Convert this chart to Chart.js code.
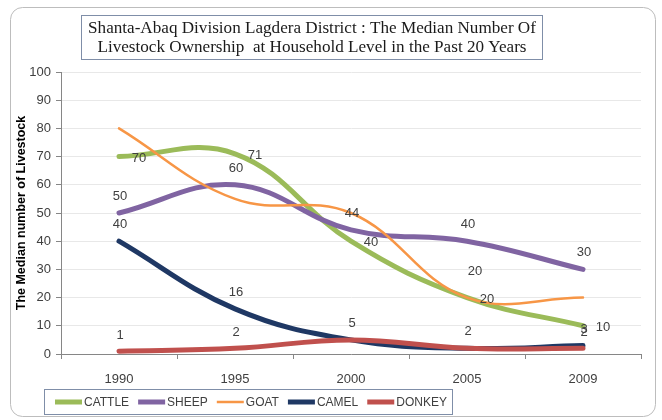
<!DOCTYPE html>
<html>
<head>
<meta charset="utf-8">
<script src="https://cdn.jsdelivr.net/npm/chart.js@4/dist/chart.umd.min.js"></script>
<style>
  html, body { margin: 0; padding: 0; background: #ffffff; }
  #wrap { width: 662px; height: 420px; position: relative; }
</style>
</head>
<body>
<div id="wrap"><canvas id="chart" width="662" height="420"></canvas></div>
<script>
// Survey years and median herd sizes per household
const years = ['1990', '1995', '2000', '2005', '2009'];
const cattle = [70, 71, 40, 20, 10];
const sheep = [50, 60, 44, 40, 30];
const goat = [80, 55, 50, 20, 20];
const camel = [40, 16, 5, 2, 3];
const donkey = [1, 2, 5, 2, 2];
const yTickValues = [0, 10, 20, 30, 40, 50, 60, 70, 80, 90, 100];

const titleLines = [
  'Shanta-Abaq Division Lagdera District : The Median Number Of',
  'Livestock Ownership  at Household Level in the Past 20 Years'
];
const yAxisTitle = 'The Median number of Livestock';

const SANS = '"Liberation Sans", Arial, sans-serif';
const SERIF = '"Liberation Serif", "Times New Roman", serif';
const TEXT = '#404040';

// value-label placement per series: which points get a label and where it sits
const valueLabels = [
  { points: [0, 1, 2, 3, 4], dx: 20, dy: 1 },   // CATTLE: right of point
  { points: [0, 1, 2, 3, 4], dx: 1, dy: -17 },  // SHEEP: above
  { points: [3], dx: 8, dy: -27 },              // GOAT
  { points: [0, 1, 2, 3, 4], dx: 1, dy: -17 },  // CAMEL
  { points: [0, 1, 2, 3, 4], dx: 1, dy: -16 }   // DONKEY
];

function series(label, data, color, width, order) {
  return {
    label, data,
    borderColor: color, backgroundColor: color,
    borderWidth: width, pointRadius: 0, pointHoverRadius: 0,
    tension: 0.4, fill: false, order,
    borderCapStyle: 'round', borderJoinStyle: 'round'
  };
}

// Chart frame, boxed title, value labels and legend drawn on the canvas
const decorations = {
  id: 'decorations',
  beforeDraw(chart) {
    const ctx = chart.ctx;
    ctx.save();
    ctx.fillStyle = '#ffffff';
    ctx.fillRect(0, 0, chart.width, chart.height);
    // rounded chart frame
    ctx.strokeStyle = '#bdbdbd';
    ctx.lineWidth = 1;
    ctx.beginPath();
    ctx.roundRect(10.5, 7.5, 645, 409, 12);
    ctx.stroke();
    // title box
    ctx.fillStyle = '#ffffff';
    ctx.fillRect(81.5, 15.5, 461, 44);
    ctx.strokeStyle = '#7f8ea8';
    ctx.strokeRect(81.5, 15.5, 461, 44);
    ctx.fillStyle = '#1a1a1a';
    ctx.font = '16px ' + SERIF;
    ctx.textAlign = 'center';
    ctx.textBaseline = 'alphabetic';
    ctx.translate(312, 0);
    ctx.scale(1.07, 1);
    ctx.fillText(titleLines[0], 0, 33);
    ctx.fillText(titleLines[1], 0, 52);
    ctx.restore();
  },
  afterDatasetsDraw(chart) {
    const ctx = chart.ctx;
    ctx.save();
    ctx.font = '13px ' + SANS;
    ctx.fillStyle = TEXT;
    ctx.textAlign = 'center';
    ctx.textBaseline = 'middle';
    // identical labels that land on the same spot are written once
    const drawn = [];
    chart.data.datasets.forEach((ds, i) => {
      const meta = chart.getDatasetMeta(i);
      const cfg = valueLabels[i];
      cfg.points.forEach(j => {
        const pt = meta.data[j];
        const x = Math.round(pt.x + cfg.dx);
        const y = Math.round(pt.y + cfg.dy);
        const text = String(ds.data[j]);
        if (drawn.some(d => d.text === text && Math.abs(d.x - x) < 4 && Math.abs(d.y - y) < 4)) return;
        drawn.push({ text, x, y });
        ctx.fillText(text, x, y);
      });
    });

    // legend
    ctx.font = '12px ' + SANS;
    ctx.textAlign = 'left';
    let x = 55;
    const yMid = 402;
    const items = chart.data.datasets.map(ds => ({
      text: ds.label, color: ds.borderColor, width: ds.borderWidth,
      w: ctx.measureText(ds.label).width
    }));
    let end = x;
    items.forEach(it => {
      ctx.strokeStyle = it.color;
      ctx.lineWidth = it.width;
      ctx.lineCap = 'butt';
      ctx.beginPath();
      ctx.moveTo(x, yMid);
      ctx.lineTo(x + 27, yMid);
      ctx.stroke();
      ctx.fillStyle = TEXT;
      ctx.fillText(it.text, x + 29, yMid + 1);
      end = x + 29 + it.w;
      x = end + 9;
    });
    ctx.strokeStyle = '#7f8ea8';
    ctx.lineWidth = 1;
    ctx.strokeRect(44.5, 389.5, Math.round(end + 5 - 44), 25);
    ctx.restore();
  }
};

new Chart(document.getElementById('chart'), {
  type: 'line',
  data: {
    labels: years,
    datasets: [
      series('CATTLE', cattle, '#9bbb59', 5, 4),
      series('SHEEP', sheep, '#8064a2', 5, 3),
      series('GOAT', goat, '#f79646', 2.5, 2),
      series('CAMEL', camel, '#1f3864', 5, 1),
      series('DONKEY', donkey, '#c0504d', 5, 0)
    ]
  },
  options: {
    responsive: false,
    animation: false,
    devicePixelRatio: 1,
    layout: { padding: { top: 72, left: 0, right: 21, bottom: 26 } },
    plugins: {
      legend: { display: false },
      title: { display: false },
      tooltip: { enabled: false }
    },
    scales: {
      x: {
        type: 'category',
        offset: true,
        afterFit: s => { s.height = 40; },
        grid: { display: true, drawOnChartArea: false, offset: true, tickLength: 5, color: '#868686' },
        border: { display: true, color: '#868686', width: 1 },
        ticks: { color: TEXT, font: { family: SANS, size: 13 }, padding: 13, maxRotation: 0 }
      },
      y: {
        min: 0, max: 100,
        afterBuildTicks: s => { s.ticks = yTickValues.map(v => ({ value: v })); },
        afterFit: s => { s.width = 61; },
        grid: { color: '#e8e8e8', tickColor: '#868686', tickLength: 5, lineWidth: 1 },
        border: { display: true, color: '#868686', width: 1 },
        ticks: { color: TEXT, font: { family: SANS, size: 13 }, padding: 5 },
        title: {
          display: true, text: yAxisTitle, color: '#000000',
          font: { family: SANS, size: 12.5, weight: 'bold' },
          padding: { top: 14, bottom: 0 }
        }
      }
    }
  },
  plugins: [decorations]
});
</script>
</body>
</html>
